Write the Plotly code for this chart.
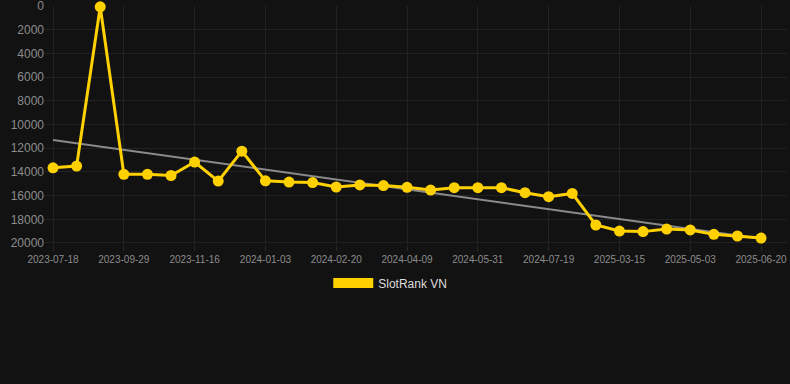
import plotly.graph_objects as go

dates = ["2023-07-18", "2023-08-14", "2023-09-05", "2023-09-29", "2023-10-15", "2023-10-31",
         "2023-11-16", "2023-12-02", "2023-12-18", "2024-01-03", "2024-01-19", "2024-02-04",
         "2024-02-20", "2024-03-07", "2024-03-23", "2024-04-09", "2024-04-26", "2024-05-13",
         "2024-05-31", "2024-06-16", "2024-07-02", "2024-07-19", "2024-08-04", "2025-02-27",
         "2025-03-15", "2025-03-31", "2025-04-17", "2025-05-03", "2025-05-19", "2025-06-04",
         "2025-06-20"]
ranks = [13650, 13500, 50, 14200, 14200, 14300, 13160, 14770, 12240, 14750, 14850, 14900,
         15270, 15100, 15150, 15300, 15530, 15330, 15330, 15330, 15750, 16090, 15810, 18480,
         18990, 19040, 18820, 18900, 19270, 19410, 19580]
trend_x = [dates[0], dates[-1]]
trend_values = [11300, 19650]
tick_labels = dates[::3]
y_ticks = [0, 2000, 4000, 6000, 8000, 10000, 12000, 14000, 16000, 18000, 20000]
y_tick_text = [str(v) for v in y_ticks]

gold = "#FFD100"

fig = go.Figure()
fig.add_trace(go.Scatter(x=trend_x, y=trend_values, mode="lines",
                         line=dict(color="#8a8a8a", width=2), showlegend=False,
                         hoverinfo="skip"))
fig.add_trace(go.Scatter(x=dates, y=ranks, mode="lines+markers",
                         line=dict(color=gold, width=3),
                         marker=dict(color=gold, size=11),
                         showlegend=False, cliponaxis=False))
fig.add_trace(go.Scatter(x=[None], y=[None], mode="lines", name="SlotRank VN",
                         line=dict(color=gold, width=12)))

fig.update_layout(
    width=790, height=384,
    paper_bgcolor="#121212", plot_bgcolor="#121212",
    margin=dict(l=45, r=3, t=6, b=139),
    font=dict(family="Arial, Liberation Sans, sans-serif", color="#8c8c8c"),
    legend=dict(orientation="h", xref="container", x=0.494, xanchor="center",
                yref="container", y=0.301, yanchor="top", itemwidth=40,
                font=dict(size=12, color="#dddddd")),
    xaxis=dict(type="category", categoryorder="array", categoryarray=dates,
               range=[-0.34, 31.1],
               tickmode="array", tickvals=tick_labels, ticktext=tick_labels,
               tickfont=dict(size=10, color="#8c8c8c"),
               showgrid=True, gridcolor="#222222", gridwidth=1,
               ticks="outside", ticklen=5, tickcolor="#2a2a2a",
               showline=False, zeroline=False, tickangle=0, automargin=False,
               ticklabeloverflow="allow"),
    yaxis=dict(range=[20170, -20], tickmode="array", tickvals=y_ticks, ticktext=y_tick_text,
               tickfont=dict(size=12, color="#8c8c8c"),
               showgrid=True, gridcolor="#222222", gridwidth=1,
               zeroline=False, showline=False, ticks="", automargin=False,
               ticklabeloverflow="allow"),
)

fig.write_html("out.html", config={"displayModeBar": False},
               post_script="document.body.style.margin='0';document.body.style.background='#121212';")
